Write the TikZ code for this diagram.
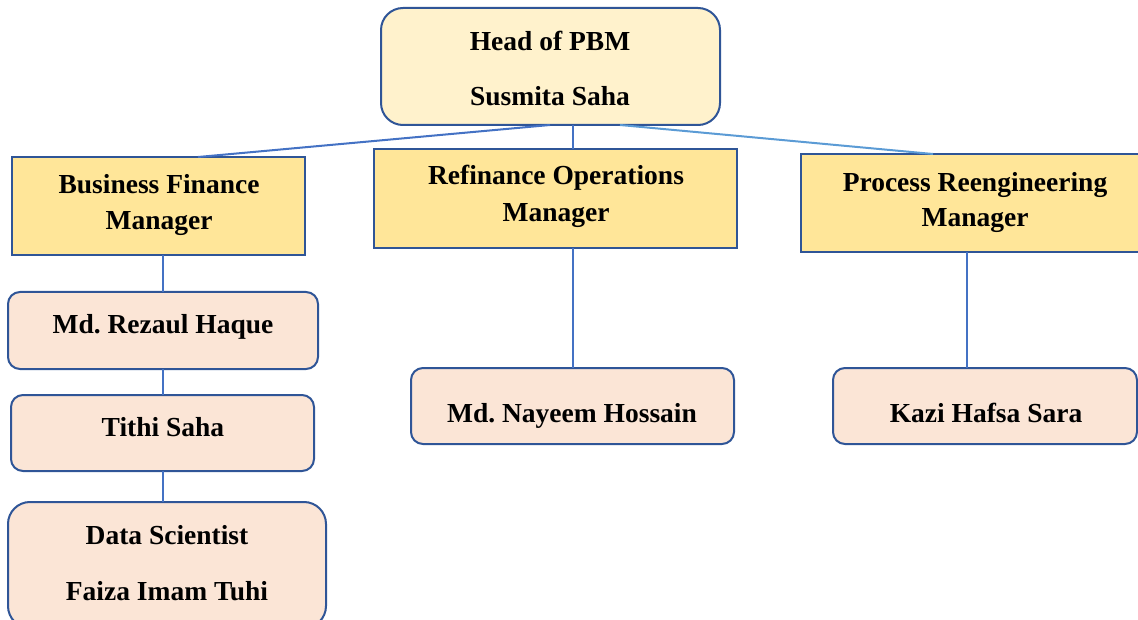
\documentclass[tikz,border=0pt]{standalone}
\usepackage{fontspec}
\setmainfont{Liberation Serif}
\frenchspacing
\definecolor{bordc}{HTML}{2F5597}
\definecolor{linec}{HTML}{4472C4}
\definecolor{linelt}{HTML}{5B9BD5}
\definecolor{headfill}{HTML}{FFF2CC}
\definecolor{mgrfill}{HTML}{FFE699}
\definecolor{stafffill}{HTML}{FBE5D6}
\tikzset{
  box/.style={draw=bordc, line width=2pt, inner sep=0pt, outer sep=0pt, rectangle},
  headbox/.style={box, fill=headfill, rounded corners=22pt},
  mgrbox/.style={box, fill=mgrfill},
  staffbox/.style={box, fill=stafffill, rounded corners=12pt},
  bigstaff/.style={box, fill=stafffill, rounded corners=22pt},
  txt/.style={font=\fontsize{27.5}{32}\selectfont\bfseries, anchor=base, inner sep=0pt},
  conn/.style={draw=linec, line width=2pt},
  connlt/.style={draw=linelt, line width=2pt}
}
\begin{document}
\begin{tikzpicture}[x=1pt,y=-1pt]
\useasboundingbox (0,0) rectangle (1138,620);
\begin{scope}
\clip (0,0) rectangle (1138,620);
\node[headbox, minimum width=339pt, minimum height=117pt] (head) at (550.5,66.5) {};
\node[mgrbox, minimum width=293pt, minimum height=98pt] (bfm) at (158.5,206) {};
\node[mgrbox, minimum width=363pt, minimum height=99pt] (rom) at (555.5,198.5) {};
\node[mgrbox, minimum width=340pt, minimum height=98pt] (prm) at (971,203) {};
\node[staffbox, minimum width=310pt, minimum height=77pt] (rez) at (163,330.5) {};
\node[staffbox, minimum width=303pt, minimum height=76pt] (tithi) at (162.5,433) {};
\node[bigstaff, minimum width=318pt, minimum height=126pt] (data) at (167,565) {};
\node[staffbox, minimum width=323pt, minimum height=76pt] (nayeem) at (572.5,406) {};
\node[staffbox, minimum width=304pt, minimum height=76pt] (kazi) at (985,406) {};

\draw[conn] (head.south -| 550,0) -- (bfm.north -| 198,0);
\draw[conn] (head.south -| 573,0) -- (rom.north -| 573,0);
\draw[connlt] (head.south -| 620,0) -- (prm.north -| 933,0);
\draw[conn] (bfm.south -| 163,0) -- (rez.north -| 163,0);
\draw[conn] (rez.south -| 163,0) -- (tithi.north -| 163,0);
\draw[conn] (tithi.south -| 163,0) -- (data.north -| 163,0);
\draw[conn] (rom.south -| 573,0) -- (nayeem.north -| 573,0);
\draw[conn] (prm.south -| 967,0) -- (kazi.north -| 967,0);

\node[txt] (headA) at (550,51) {Head of PBM};
\node[txt] (headB) at (550,106) {Susmita Saha};
\node[txt] (bfmA) at (159,194) {Business Finance};
\node[txt] (bfmB) at (159,230) {Manager};
\node[txt] (romA) at (556,185) {Refinance Operations};
\node[txt] (romB) at (556,222) {Manager};
\node[txt] (prmA) at (975,192) {Process Reengineering};
\node[txt] (prmB) at (975,227) {Manager};
\node[txt] (rezA) at (163,334) {Md. Rezaul Haque};
\node[txt] (tithiA) at (163,436) {Tithi Saha};
\node[txt] (dataA) at (167,544) {Data Scientist};
\node[txt] (dataB) at (167,600) {Faiza Imam Tuhi};
\node[txt] (nayeemA) at (572,422) {Md. Nayeem Hossain};
\node[txt] (kaziA) at (986,422) {Kazi Hafsa Sara};
\end{scope}
\end{tikzpicture}
\end{document}
